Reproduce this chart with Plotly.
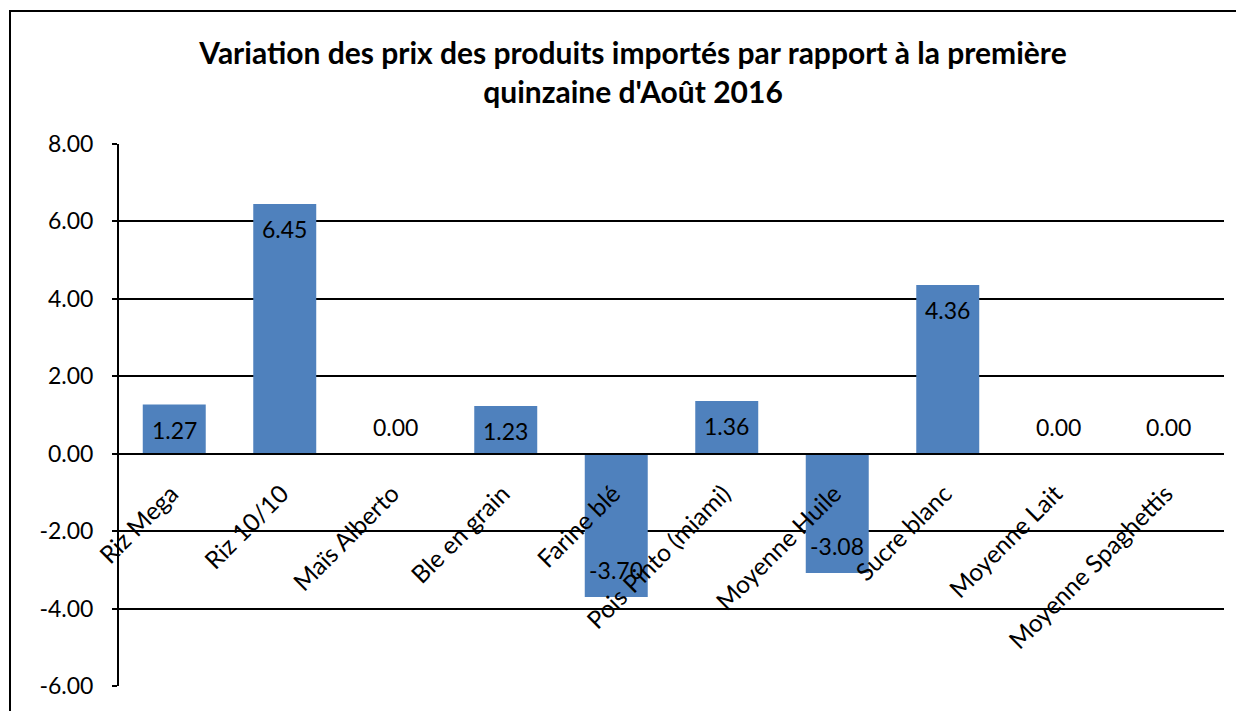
import plotly.graph_objects as go

produits = ["Riz Mega", "Riz 10/10", "Maïs Alberto", "Ble en grain", "Farine blé",
            "Pois Pinto (miami)", "Moyenne Huile", "Sucre blanc", "Moyenne Lait",
            "Moyenne Spaghettis"]
variation = [1.27, 6.45, 0.00, 1.23, -3.70, 1.36, -3.08, 4.36, 0.00, 0.00]
y_ticks = [-6, -4, -2, 0, 2, 4, 6, 8]

titre = "Variation des prix des produits importés par rapport à la première<br>quinzaine d'Août 2016"
FONT = "Lato"
y_min, y_max = -6, 8
# the page body has an 8px margin, so the figure is shrunk by that much
W, H = 1236, 703

fig = go.Figure()
fig.add_trace(go.Bar(
    x=produits, y=variation, marker=dict(color="#4F81BD", line=dict(width=0)),
    showlegend=False, hoverinfo="x+y"))

# data labels: inside end of bar, zero values sit just above the axis
for p, v in zip(produits, variation):
    fig.add_annotation(x=p, y=v, text=f"{v:.2f}", showarrow=False,
                       yshift=-25 if v > 0 else 27,
                       font=dict(family=FONT, size=23, color="black"))

fig.update_layout(
    width=W, height=H,
    margin=dict(l=111, r=20, t=136, b=25, autoexpand=False),
    paper_bgcolor="white", plot_bgcolor="white",
    bargap=0.43,
    title=dict(text=f"<b>{titre}</b>", x=625 / W, xanchor="center", xref="container",
               y=1 - 56 / H, yanchor="top", yref="container",
               font=dict(family=FONT, size=30, color="black")),
    xaxis=dict(anchor="free", position=(0 - y_min) / (y_max - y_min), automargin=False,
               showline=True, linecolor="black", linewidth=2,
               tickangle=-45, ticks="", ticklabelstandoff=15, ticklabelshift=-3,
               tickfont=dict(family=FONT, size=24.5, color="black"),
               showgrid=False),
    yaxis=dict(range=[y_min, y_max], tickvals=y_ticks,
               ticktext=[f"{t:.2f}" for t in y_ticks], automargin=False,
               showline=True, linecolor="black", linewidth=2,
               ticks="outside", ticklen=5, tickcolor="black", tickwidth=1.5,
               showgrid=True, gridcolor="black", gridwidth=1.5, zeroline=False,
               ticklabelstandoff=14,
               tickfont=dict(family=FONT, size=23, color="black")),
    shapes=[dict(type="rect", xref="paper", yref="paper",
                 x0=-109 / 1105, x1=1123 / 1105, y0=-34 / 542, y1=675 / 542,
                 line=dict(color="black", width=2), fillcolor="rgba(0,0,0,0)")],
)

fig.write_html("out.html")
